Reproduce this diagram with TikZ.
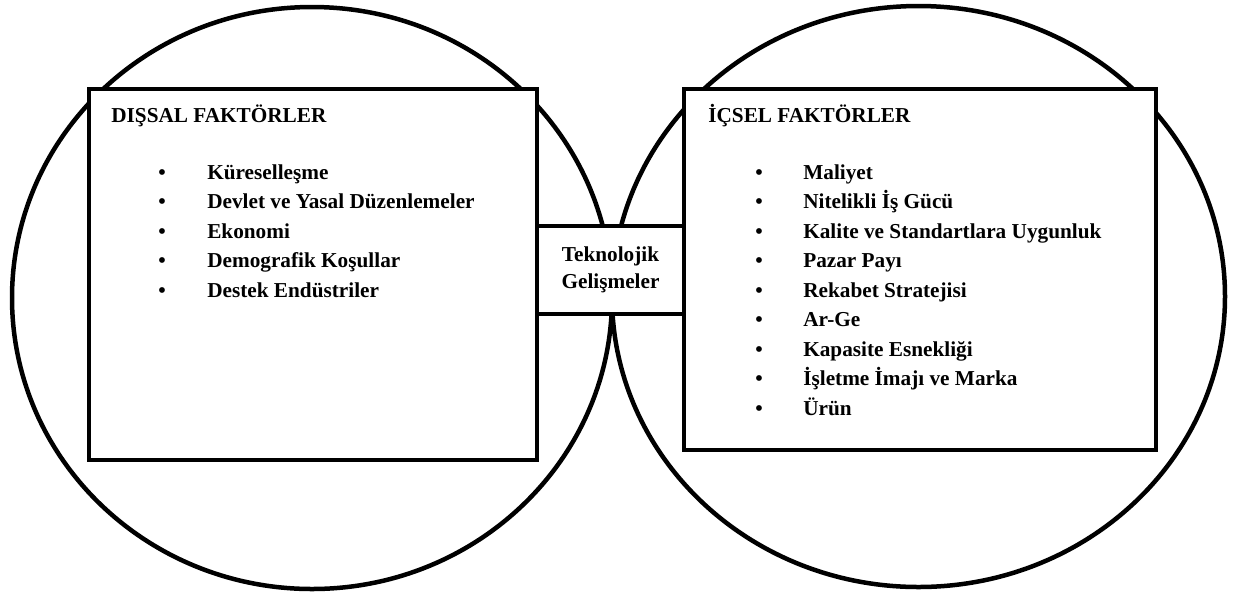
\documentclass[tikz,border=0pt]{standalone}
\usepackage{fontspec}
\setmainfont{Liberation Serif}
\usetikzlibrary{shapes.geometric, positioning}

\begin{document}
\begin{tikzpicture}[x=0.6pt, y=-0.6pt,
    ring/.style={ellipse, draw, line width=2.7pt},
    block/.style={rectangle, draw, fill=white, line width=2.7pt},
    heading/.style={anchor=base west, inner sep=0pt, font=\fontsize{12.75}{15}\selectfont\bfseries},
    entry/.style={anchor=base west, inner sep=0pt, font=\fontsize{12.75}{15}\selectfont\bfseries}]

    \useasboundingbox (0,0) rectangle (1235,597);

    % the two large rings
    \node [ring, minimum width=360pt, minimum height=349.2pt] (outer) at (312,298) {};
    \node [ring, minimum width=367.8pt, minimum height=348.6pt] (inner) at (918.5,296.5) {};

    % boxes
    \node [block, minimum width=268.8pt, minimum height=222.6pt] (disbox) at (313,274.5) {};
    \node [block, minimum width=283.2pt, minimum height=216.6pt] (icbox) at (920,269.5) {};
    \node [block, minimum width=88.2pt, minimum height=52.8pt, align=center,
        font=\fontsize{12.75}{16.2}\selectfont\bfseries] (tech) at (610.5,270) {Teknolojik\\Gelişmeler\vphantom{g}};

    \node [heading] (distitle) at (111,122) {DIŞSAL FAKTÖRLER};
    \node [heading] (ictitle) at (708,122) {İÇSEL FAKTÖRLER};

    \foreach \entry [count=\i] in {Küreselleşme, Devlet ve Yasal Düzenlemeler, Ekonomi,
        Demografik Koşullar, Destek Endüstriler}
        \node [entry] (dis\i) at (158,{179+29.6*(\i-1)}) {\makebox[29.4pt][l]{\textbullet}\entry};

    \foreach \entry [count=\i] in {Maliyet, Nitelikli İş Gücü, Kalite ve Standartlara Uygunluk,
        Pazar Payı, Rekabet Stratejisi, Ar-Ge, Kapasite Esnekliği, İşletme İmajı ve Marka, Ürün}
        \node [entry] (ic\i) at (755,{179+29.5*(\i-1)}) {\makebox[28.8pt][l]{\textbullet}\entry};
\end{tikzpicture}
\end{document}
